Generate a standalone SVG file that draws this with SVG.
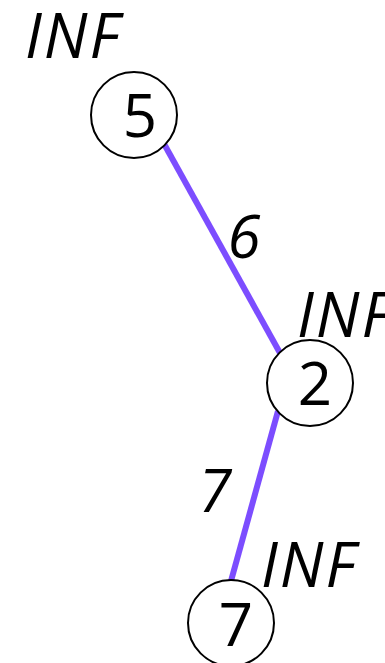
<svg xmlns="http://www.w3.org/2000/svg" width="385" height="663" viewBox="0 0 385 663">
<style>
.node{fill:#fff;stroke:#000;stroke-width:2}
.edge{stroke:#7c4dff;stroke-width:6;fill:none}
.t{font-family:"Open Sans","Noto Sans",sans-serif;font-size:60px;fill:#000}
.i{font-style:italic}
.m{text-anchor:middle}
.inf{font-size:62px;letter-spacing:2px}
</style>
<rect width="385" height="663" fill="#fff"/>
<g id="edges">
<line class="edge" x1="163" y1="142" x2="280" y2="353"/>
<text class="t i m" x="244" y="258">6</text>
<line class="edge" x1="278" y1="411" x2="231" y2="581"/>
<text class="t i m" x="215" y="512">7</text>
</g>
<g id="node5">
<circle class="node" cx="134" cy="115" r="43"/>
<text class="t m" x="140" y="137">5</text>
<text class="t i inf" x="25" y="58">INF</text>
</g>
<g id="node2">
<circle class="node" cx="310" cy="383" r="43"/>
<text class="t m" x="315" y="405">2</text>
<text class="t i inf" x="297" y="337">INF</text>
</g>
<g id="node7">
<circle class="node" cx="231" cy="623" r="43"/>
<text class="t m" x="236" y="646">7</text>
<text class="t i inf" x="261" y="587">INF</text>
</g>
</svg>
